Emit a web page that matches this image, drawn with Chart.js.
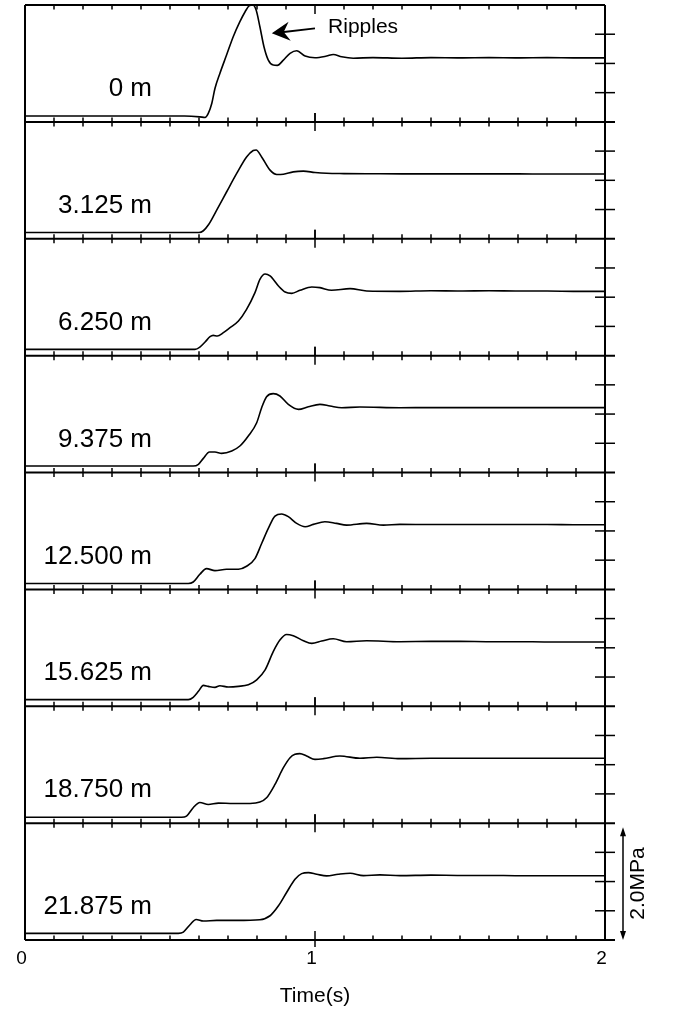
<!DOCTYPE html>
<html>
<head>
<meta charset="utf-8">
<script src="https://cdn.jsdelivr.net/npm/chart.js@4.4.1/dist/chart.umd.min.js"></script>
<style>
  html, body { margin: 0; padding: 0; background: #fff; }
  #wrap { width: 674px; height: 1011px; }
</style>
</head>
<body>
<div id="wrap"><canvas id="myChart"></canvas></div>
<script>
// Distance of each measuring point along the pipe
var panelLabels = ["0 m", "3.125 m", "6.250 m", "9.375 m", "12.500 m", "15.625 m", "18.750 m", "21.875 m"];
// Tick labels on the time axis
var timeTicks = [0, 1, 2];
// Ticks on the right side of each panel (MPa)
var pressureTicks = [0.5, 1.0, 1.5];

// Pressure traces, time (s) and pressure (MPa)
var t0 = [0, 0.55, 0.603, 0.621, 0.632, 0.644, 0.655, 0.672, 0.695, 0.718, 0.741, 0.759, 0.774, 0.785, 0.797, 0.810, 0.824, 0.839, 0.856, 0.870, 0.891, 0.914, 0.937, 0.966, 1.0, 1.04, 1.063, 1.092, 1.132, 1.2, 1.3, 1.4, 1.5, 1.6, 1.7, 1.8, 1.9, 2.0];
var p0 = [0.10, 0.10, 0.086, 0.075, 0.144, 0.315, 0.572, 0.829, 1.143, 1.457, 1.714, 1.885, 1.99, 2.0, 1.914, 1.628, 1.286, 1.057, 0.972, 0.967, 1.057, 1.172, 1.217, 1.126, 1.097, 1.126, 1.154, 1.114, 1.09, 1.10, 1.09, 1.10, 1.095, 1.10, 1.095, 1.10, 1.095, 1.095];

var t1 = [0, 0.55, 0.60, 0.615, 0.632, 0.661, 0.695, 0.730, 0.764, 0.787, 0.797, 0.816, 0.845, 0.868, 0.891, 0.925, 0.96, 1.0, 1.04, 1.1, 1.2, 1.3, 1.4, 1.5, 1.6, 1.7, 1.8, 1.9, 2.0];
var p1 = [0.108, 0.108, 0.108, 0.137, 0.234, 0.49, 0.80, 1.117, 1.40, 1.51, 1.52, 1.40, 1.174, 1.10, 1.105, 1.145, 1.157, 1.134, 1.12, 1.115, 1.112, 1.11, 1.11, 1.11, 1.11, 1.11, 1.108, 1.108, 1.108];

var t2 = [0, 0.55, 0.586, 0.603, 0.621, 0.638, 0.649, 0.663, 0.684, 0.707, 0.736, 0.764, 0.793, 0.810, 0.828, 0.845, 0.874, 0.897, 0.920, 0.948, 0.989, 1.017, 1.057, 1.121, 1.178, 1.293, 1.4, 1.5, 1.6, 1.7, 1.8, 1.9, 2.0];
var p2 = [0.107, 0.107, 0.107, 0.147, 0.233, 0.324, 0.347, 0.336, 0.393, 0.478, 0.592, 0.792, 1.078, 1.306, 1.397, 1.363, 1.192, 1.089, 1.066, 1.118, 1.175, 1.163, 1.118, 1.146, 1.106, 1.10, 1.11, 1.105, 1.11, 1.105, 1.105, 1.10, 1.10];

var t3 = [0, 0.55, 0.580, 0.598, 0.615, 0.636, 0.655, 0.678, 0.713, 0.741, 0.770, 0.799, 0.816, 0.833, 0.856, 0.879, 0.908, 0.943, 0.977, 1.017, 1.052, 1.092, 1.155, 1.293, 1.4, 1.5, 1.6, 1.7, 1.8, 1.9, 2.0];
var p3 = [0.111, 0.111, 0.111, 0.14, 0.242, 0.35, 0.35, 0.328, 0.368, 0.453, 0.624, 0.852, 1.109, 1.297, 1.349, 1.309, 1.166, 1.08, 1.126, 1.166, 1.138, 1.109, 1.12, 1.109, 1.11, 1.11, 1.11, 1.11, 1.11, 1.11, 1.11];

var t4 = [0, 0.5, 0.563, 0.580, 0.603, 0.626, 0.655, 0.695, 0.736, 0.764, 0.793, 0.816, 0.839, 0.862, 0.885, 0.908, 0.937, 0.966, 0.994, 1.034, 1.074, 1.109, 1.178, 1.236, 1.293, 1.4, 1.5, 1.6, 1.7, 1.8, 1.9, 2.0];
var p4 = [0.10, 0.10, 0.10, 0.126, 0.258, 0.355, 0.321, 0.344, 0.344, 0.395, 0.527, 0.785, 1.043, 1.255, 1.289, 1.244, 1.129, 1.072, 1.112, 1.158, 1.129, 1.10, 1.129, 1.10, 1.112, 1.11, 1.11, 1.11, 1.11, 1.11, 1.105, 1.105];

var t5 = [0, 0.5, 0.563, 0.580, 0.598, 0.615, 0.632, 0.655, 0.672, 0.701, 0.736, 0.770, 0.799, 0.828, 0.856, 0.879, 0.902, 0.925, 0.960, 0.989, 1.023, 1.063, 1.109, 1.178, 1.293, 1.4, 1.5, 1.6, 1.7, 1.8, 1.9, 2.0];
var p5 = [0.113, 0.113, 0.113, 0.153, 0.255, 0.357, 0.34, 0.323, 0.351, 0.329, 0.34, 0.368, 0.453, 0.623, 0.935, 1.133, 1.229, 1.207, 1.122, 1.076, 1.116, 1.156, 1.105, 1.122, 1.105, 1.11, 1.11, 1.105, 1.105, 1.10, 1.10, 1.10];

var t6 = [0, 0.5, 0.540, 0.557, 0.580, 0.603, 0.632, 0.667, 0.718, 0.776, 0.810, 0.833, 0.862, 0.891, 0.914, 0.931, 0.948, 0.971, 1.0, 1.029, 1.086, 1.155, 1.213, 1.293, 1.4, 1.5, 1.6, 1.7, 1.8, 1.9, 2.0];
var p6 = [0.10, 0.10, 0.10, 0.12, 0.263, 0.354, 0.32, 0.343, 0.337, 0.337, 0.36, 0.434, 0.663, 0.949, 1.12, 1.177, 1.189, 1.149, 1.091, 1.103, 1.149, 1.109, 1.126, 1.103, 1.11, 1.11, 1.11, 1.11, 1.11, 1.11, 1.11];

var t7 = [0, 0.5, 0.529, 0.546, 0.569, 0.590, 0.615, 0.661, 0.730, 0.810, 0.845, 0.874, 0.902, 0.931, 0.954, 0.977, 1.006, 1.040, 1.080, 1.121, 1.167, 1.224, 1.293, 1.4, 1.5, 1.6, 1.7, 1.8, 1.9, 2.0];
var p7 = [0.114, 0.114, 0.114, 0.136, 0.261, 0.352, 0.324, 0.335, 0.335, 0.347, 0.415, 0.585, 0.813, 1.04, 1.136, 1.153, 1.125, 1.097, 1.125, 1.142, 1.102, 1.114, 1.102, 1.11, 1.105, 1.105, 1.10, 1.10, 1.10, 1.10, 1.10];

var times = [t0, t1, t2, t3, t4, t5, t6, t7];
var pressures = [p0, p1, p2, p3, p4, p5, p6, p7];

var FONT = '"Liberation Sans", Arial, Helvetica, sans-serif';

function line(ctx, x1, y1, x2, y2) {
  ctx.beginPath();
  ctx.moveTo(x1, y1);
  ctx.lineTo(x2, y2);
  ctx.stroke();
}

// frame, ticks and annotations drawn on top of the stacked panels
var panelFrame = {
  id: 'panelFrame',
  afterDraw: function(chart) {
    var ctx = chart.ctx;
    var xs = chart.scales.x;
    var area = chart.chartArea;
    var n = panelLabels.length;
    ctx.save();
    ctx.strokeStyle = '#000';
    ctx.fillStyle = '#000';
    ctx.lineCap = 'butt';

    ctx.lineWidth = 2;
    line(ctx, area.left, area.top, area.left, area.bottom);
    line(ctx, area.right, area.top, area.right, area.bottom);

    for (var i = 0; i < n; i++) {
      var ys = chart.scales['y' + i];
      // horizontal panel borders
      ctx.lineWidth = 2;
      line(ctx, area.left, ys.top, i === 0 ? area.right : area.right + 10, ys.top);
      if (i === n - 1) line(ctx, area.left, ys.bottom, area.right + 10, ys.bottom);

      // time ticks: down from the top edge, up from the bottom edge
      ctx.lineWidth = 1.5;
      for (var k = 1; k < 20; k++) {
        var px = xs.getPixelForValue(k / 10);
        var len = (k === 10) ? 9 : 4.5;
        line(ctx, px, ys.top, px, ys.top + len);
        line(ctx, px, ys.bottom - len, px, ys.bottom);
        if (k === 10) {
          if (i > 0) line(ctx, px, ys.top, px, ys.top - len);
          if (i === n - 1) line(ctx, px, ys.bottom, px, ys.bottom + 7);
        }
      }

      // pressure ticks across the right border
      pressureTicks.forEach(function(v) {
        var py = ys.getPixelForValue(v);
        line(ctx, area.right - 10, py, area.right + 10, py);
      });

      // panel label
      ctx.font = '26px ' + FONT;
      ctx.textAlign = 'right';
      ctx.textBaseline = 'middle';
      ctx.fillText(panelLabels[i], area.left + 127, ys.bottom - 33);
    }

    // "Ripples" note in the first panel
    var y0 = chart.scales.y0;
    var tipX = xs.getPixelForValue(0.851), tipY = y0.getPixelForValue(1.515);
    var tailX = xs.getPixelForValue(1.0), tailY = y0.getPixelForValue(1.60);
    ctx.lineWidth = 2;
    var dx = tipX - tailX, dy = tipY - tailY;
    var dl = Math.sqrt(dx * dx + dy * dy);
    var ux = dx / dl, uy = dy / dl;
    line(ctx, tailX, tailY, tipX - ux * 10, tipY - uy * 10);
    ctx.beginPath();
    ctx.moveTo(tipX, tipY);
    ctx.lineTo(tipX - ux * 18 - uy * 9.5, tipY - uy * 18 + ux * 9.5);
    ctx.lineTo(tipX - ux * 12, tipY - uy * 12);
    ctx.lineTo(tipX - ux * 18 + uy * 9.5, tipY - uy * 18 - ux * 9.5);
    ctx.closePath();
    ctx.fill();
    ctx.font = '21px ' + FONT;
    ctx.textAlign = 'left';
    ctx.textBaseline = 'middle';
    ctx.fillText('Ripples', xs.getPixelForValue(1.045), y0.getPixelForValue(1.628));

    // 2.0 MPa scale bar beside the last panel
    var yl = chart.scales['y' + (n - 1)];
    var bx = area.right + 18;
    var bTop = yl.getPixelForValue(1.93), bBot = yl.getPixelForValue(0);
    ctx.lineWidth = 1.5;
    line(ctx, bx, bTop + 6, bx, bBot - 6);
    ctx.beginPath();
    ctx.moveTo(bx, bTop); ctx.lineTo(bx - 3, bTop + 9); ctx.lineTo(bx + 3, bTop + 9); ctx.closePath();
    ctx.fill();
    ctx.beginPath();
    ctx.moveTo(bx, bBot); ctx.lineTo(bx - 3, bBot - 9); ctx.lineTo(bx + 3, bBot - 9); ctx.closePath();
    ctx.fill();
    ctx.save();
    ctx.translate(area.right + 33, (bTop + bBot) / 2);
    ctx.rotate(-Math.PI / 2);
    ctx.font = '21px ' + FONT;
    ctx.textAlign = 'center';
    ctx.textBaseline = 'middle';
    ctx.fillText('2.0MPa', 0, 0);
    ctx.restore();

    ctx.restore();
  }
};

var datasets = [];
var scales = {
  x: {
    type: 'linear',
    min: 0,
    max: 2,
    position: 'bottom',
    grid: { display: false, drawTicks: false },
    border: { display: false },
    afterBuildTicks: function(axis) {
      axis.ticks = timeTicks.map(function(v) { return { value: v }; });
    },
    ticks: { padding: 7, labelOffset: -3.5, color: '#000', font: { size: 19, family: FONT } },
    title: { display: true, text: 'Time(s)', color: '#000', font: { size: 21, family: FONT }, padding: { top: 7, bottom: 2 } }
  }
};

for (var i = 0; i < panelLabels.length; i++) {
  datasets.push({
    label: panelLabels[i],
    data: times[i].map(function(t, j) { return { x: t, y: pressures[i][j] }; }),
    yAxisID: 'y' + i,
    borderColor: '#000',
    borderWidth: 1.6,
    pointRadius: 0,
    fill: false,
    cubicInterpolationMode: 'monotone'
  });
  scales['y' + i] = {
    type: 'linear',
    position: 'right',
    stack: 'panels',
    stackWeight: 1,
    min: 0,
    max: 2,
    display: false
  };
}

var ctx = document.getElementById("myChart");
var myChart = new Chart(ctx, {
  type: 'line',
  data: { datasets: datasets },
  options: {
    responsive: true,
    maintainAspectRatio: false,
    animation: false,
    layout: { padding: { left: 25, right: 69, top: 5, bottom: 0 } },
    plugins: { legend: { display: false }, tooltip: { enabled: false } },
    scales: scales
  },
  plugins: [panelFrame]
});
</script>
</body>
</html>
